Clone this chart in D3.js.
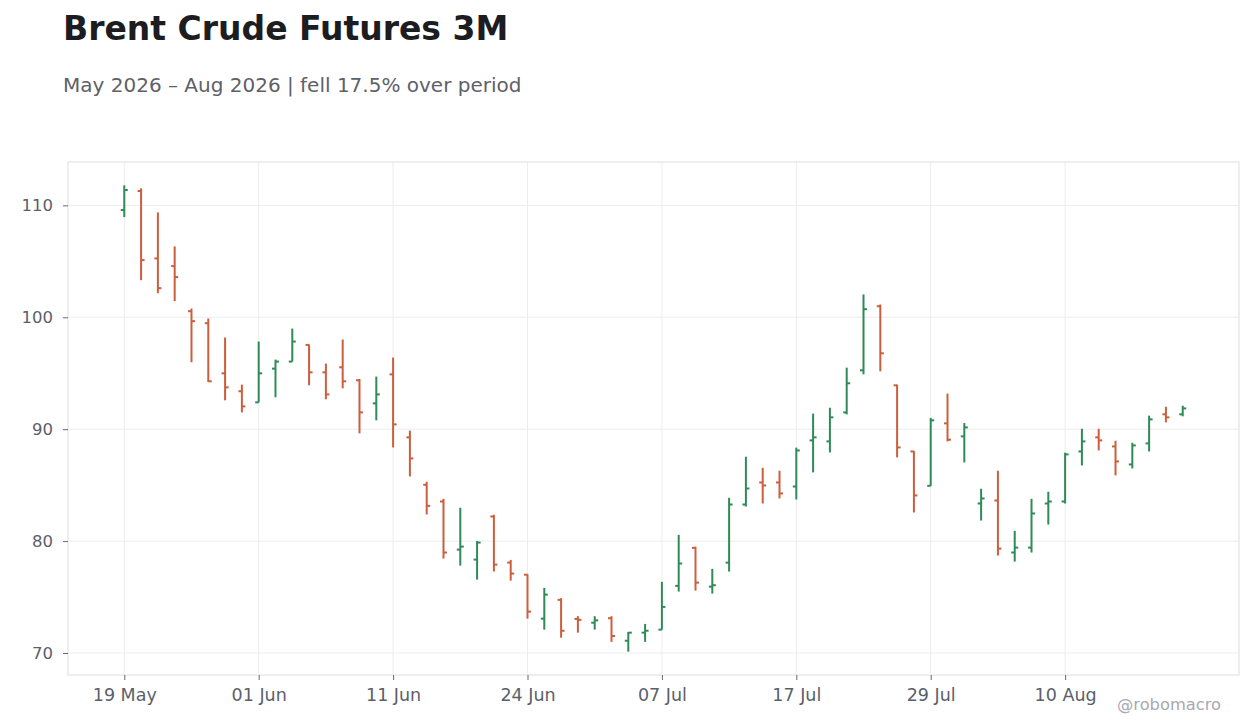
<!DOCTYPE html>
<html>
  <head>
    <meta charset="utf-8">
    <title>Brent Crude Futures 3M</title>
    <script src="https://cdn.jsdelivr.net/npm/d3@7"></script>
    <style>
      body { margin: 0; background: #fff; }
      svg { display: block; font-family: "DejaVu Sans", sans-serif; }
    </style>
  </head>

  <body>
    <svg id="chart" width="1260" height="728"></svg>

    <script>
      // data (trading days, US holidays skipped)
      const dates = [
        "2026-05-19", "2026-05-20", "2026-05-21", "2026-05-22", "2026-05-26", "2026-05-27", "2026-05-28", "2026-05-29",
        "2026-06-01", "2026-06-02", "2026-06-03", "2026-06-04", "2026-06-05", "2026-06-08", "2026-06-09", "2026-06-10",
        "2026-06-11", "2026-06-12", "2026-06-15", "2026-06-16", "2026-06-17", "2026-06-18", "2026-06-22", "2026-06-23",
        "2026-06-24", "2026-06-25", "2026-06-26", "2026-06-29", "2026-06-30", "2026-07-01", "2026-07-02", "2026-07-06",
        "2026-07-07", "2026-07-08", "2026-07-09", "2026-07-10", "2026-07-13", "2026-07-14", "2026-07-15", "2026-07-16",
        "2026-07-17", "2026-07-20", "2026-07-21", "2026-07-22", "2026-07-23", "2026-07-24", "2026-07-27", "2026-07-28",
        "2026-07-29", "2026-07-30", "2026-07-31", "2026-08-03", "2026-08-04", "2026-08-05", "2026-08-06", "2026-08-07",
        "2026-08-10", "2026-08-11", "2026-08-12", "2026-08-13", "2026-08-14", "2026-08-17", "2026-08-18", "2026-08-19"
      ];
      const opens = [
        109.58, 111.28, 105.26, 104.57, 100.54, 99.47, 94.99, 93.39,
        92.40, 95.41, 96.04, 97.53, 95.08, 95.53, 94.37, 92.31,
        94.90, 89.27, 85.03, 83.54, 79.24, 78.35, 82.20, 78.08,
        77.00, 73.07, 74.75, 73.05, 72.71, 73.11, 71.10, 71.82,
        72.09, 76.00, 79.40, 75.93, 78.08, 83.27, 85.24, 85.24,
        84.88, 89.00, 88.91, 91.50, 95.26, 100.99, 93.92, 88.01,
        84.94, 90.52, 89.36, 83.36, 83.63, 78.98, 79.42, 83.36,
        83.54, 88.01, 89.27, 88.46, 86.85, 88.73, 91.33, 91.33
      ];
      const highs = [
        111.79, 111.52, 109.37, 106.33, 100.78, 99.89, 98.19, 93.98,
        97.83, 96.22, 98.99, 97.56, 95.86, 98.01, 94.49, 94.70,
        96.40, 89.87, 85.30, 83.78, 82.98, 80.02, 82.35, 78.32,
        77.04, 75.82, 74.90, 73.29, 73.29, 73.29, 71.88, 72.60,
        76.36, 80.56, 79.50, 77.52, 83.87, 87.54, 86.55, 86.29,
        88.35, 91.39, 91.92, 95.50, 102.04, 101.14, 93.98, 88.05,
        91.00, 93.18, 90.55, 84.68, 86.29, 80.92, 83.78, 84.41,
        87.90, 90.04, 90.04, 88.97, 88.79, 91.21, 92.01, 92.10
      ];
      const lows = [
        108.95, 103.32, 102.15, 101.44, 95.98, 94.22, 92.58, 91.50,
        92.40, 92.85, 96.04, 93.92, 92.67, 93.65, 89.63, 90.79,
        88.37, 85.78, 82.38, 78.44, 77.81, 76.56, 77.28, 76.47,
        73.07, 72.09, 71.37, 71.82, 72.09, 71.00, 70.12, 71.00,
        72.09, 75.49, 75.58, 75.31, 77.28, 83.09, 83.36, 83.81,
        83.72, 86.14, 87.92, 91.32, 94.90, 95.17, 87.48, 82.56,
        84.94, 88.91, 87.03, 81.84, 78.71, 78.17, 78.98, 81.48,
        83.36, 86.76, 88.10, 85.87, 86.49, 88.01, 90.61, 91.15
      ];
      const closes = [
        111.37, 105.11, 102.60, 103.59, 99.65, 94.28, 93.74, 92.04,
        94.99, 96.04, 97.83, 95.08, 93.11, 94.28, 91.50, 93.11,
        90.43, 87.39, 83.15, 78.98, 79.51, 79.87, 77.90, 77.10,
        73.70, 75.22, 71.99, 72.96, 72.92, 71.52, 71.82, 71.99,
        74.12, 78.00, 76.29, 76.06, 83.27, 84.70, 84.97, 84.26,
        88.10, 89.27, 91.06, 94.10, 100.72, 96.78, 88.37, 84.08,
        90.79, 89.06, 90.16, 83.81, 79.33, 79.42, 82.47, 83.54,
        87.75, 88.91, 89.00, 87.12, 88.55, 90.88, 91.06, 91.86
      ];
      const yTicks = [70, 80, 90, 100, 110];
      const tickEvery = 8;

      const title = "Brent Crude Futures 3M";
      const subtitle = "May 2026 – Aug 2026 | fell 17.5% over period";
      const credit = "@robomacro";

      // layout
      const svg = d3.select("#chart");
      const plot = { left: 68, right: 1239, top: 162, bottom: 675 };
      const up = "#2e8b57";
      const down = "#cc5e3c";
      const textGrey = "#5b5f69";

      const parse = d3.timeParse("%Y-%m-%d");
      const fmt = d3.timeFormat("%d %b");

      const bars = dates.map((d, i) => ({
        date: d, open: opens[i], high: highs[i], low: lows[i], close: closes[i]
      }));

      // scales
      const x = d3.scalePoint()
        .domain(dates)
        .range([plot.left, plot.right])
        .padding(3.35);

      const lo = d3.min(lows), hi = d3.max(highs);
      const pad = (hi - lo) * 0.05;
      const y = d3.scaleLinear()
        .domain([lo - pad, hi + pad])
        .range([plot.bottom, plot.top]);

      const xTicks = dates.filter((d, i) => i % tickEvery === 0);

      // grid
      const grid = svg.append("g");
      grid.selectAll(".gy")
        .data(yTicks)
        .join("line")
          .attr("x1", plot.left)
          .attr("x2", plot.right)
          .attr("y1", d => y(d))
          .attr("y2", d => y(d))
          .style("stroke", "#ededed")
          .style("stroke-width", 1);
      grid.selectAll(".gx")
        .data(xTicks)
        .join("line")
          .attr("x1", d => x(d))
          .attr("x2", d => x(d))
          .attr("y1", plot.top)
          .attr("y2", plot.bottom)
          .style("stroke", "#ededed")
          .style("stroke-width", 1);

      // frame
      svg.append("rect")
        .attr("x", plot.left)
        .attr("y", plot.top)
        .attr("width", plot.right - plot.left)
        .attr("height", plot.bottom - plot.top)
        .style("fill", "none")
        .style("stroke", "#dddddd")
        .style("stroke-width", 1);

      // axes
      const yAxis = svg.append("g")
        .attr("transform", `translate(${plot.left},0)`)
        .call(d3.axisLeft(y).tickValues(yTicks).tickSize(5).tickPadding(10));
      const xAxis = svg.append("g")
        .attr("transform", `translate(0,${plot.bottom})`)
        .call(d3.axisBottom(x).tickValues(xTicks).tickSize(5).tickPadding(9)
          .tickFormat(d => fmt(parse(d))));
      [xAxis, yAxis].forEach(a => {
        a.select(".domain").remove();
        a.selectAll(".tick line").style("stroke", "#666a72");
        a.selectAll(".tick text")
          .style("fill", textGrey)
          .style("font-family", "DejaVu Sans");
      });
      xAxis.selectAll(".tick text").style("font-size", "17.5px");
      yAxis.selectAll(".tick text").style("font-size", "16.5px");

      // OHLC bars
      const g = svg.append("g");
      const colour = d => d.close >= d.open ? up : down;
      g.selectAll(".hl")
        .data(bars)
        .join("line")
          .attr("x1", d => x(d.date))
          .attr("x2", d => x(d.date))
          .attr("y1", d => y(d.high))
          .attr("y2", d => y(d.low))
          .style("stroke", colour)
          .style("stroke-width", 2);
      g.selectAll(".op")
        .data(bars)
        .join("line")
          .attr("x1", d => x(d.date) - 3.5)
          .attr("x2", d => x(d.date))
          .attr("y1", d => y(d.open))
          .attr("y2", d => y(d.open))
          .style("stroke", colour)
          .style("stroke-width", 2);
      g.selectAll(".cl")
        .data(bars)
        .join("line")
          .attr("x1", d => x(d.date))
          .attr("x2", d => x(d.date) + 3.5)
          .attr("y1", d => y(d.close))
          .attr("y2", d => y(d.close))
          .style("stroke", colour)
          .style("stroke-width", 2);

      // titles
      svg.append("text")
        .attr("x", 63)
        .attr("y", 40)
        .text(title)
        .style("font-size", "33px")
        .style("font-weight", "bold")
        .style("fill", "#1c1c21");
      svg.append("text")
        .attr("x", 63)
        .attr("y", 92)
        .text(subtitle)
        .style("font-size", "20px")
        .style("fill", "#5f6068");
      svg.append("text")
        .attr("x", 1221)
        .attr("y", 710)
        .attr("text-anchor", "end")
        .text(credit)
        .style("font-size", "16.3px")
        .style("fill", "#a9a9ad");
    </script>
  </body>
</html>
